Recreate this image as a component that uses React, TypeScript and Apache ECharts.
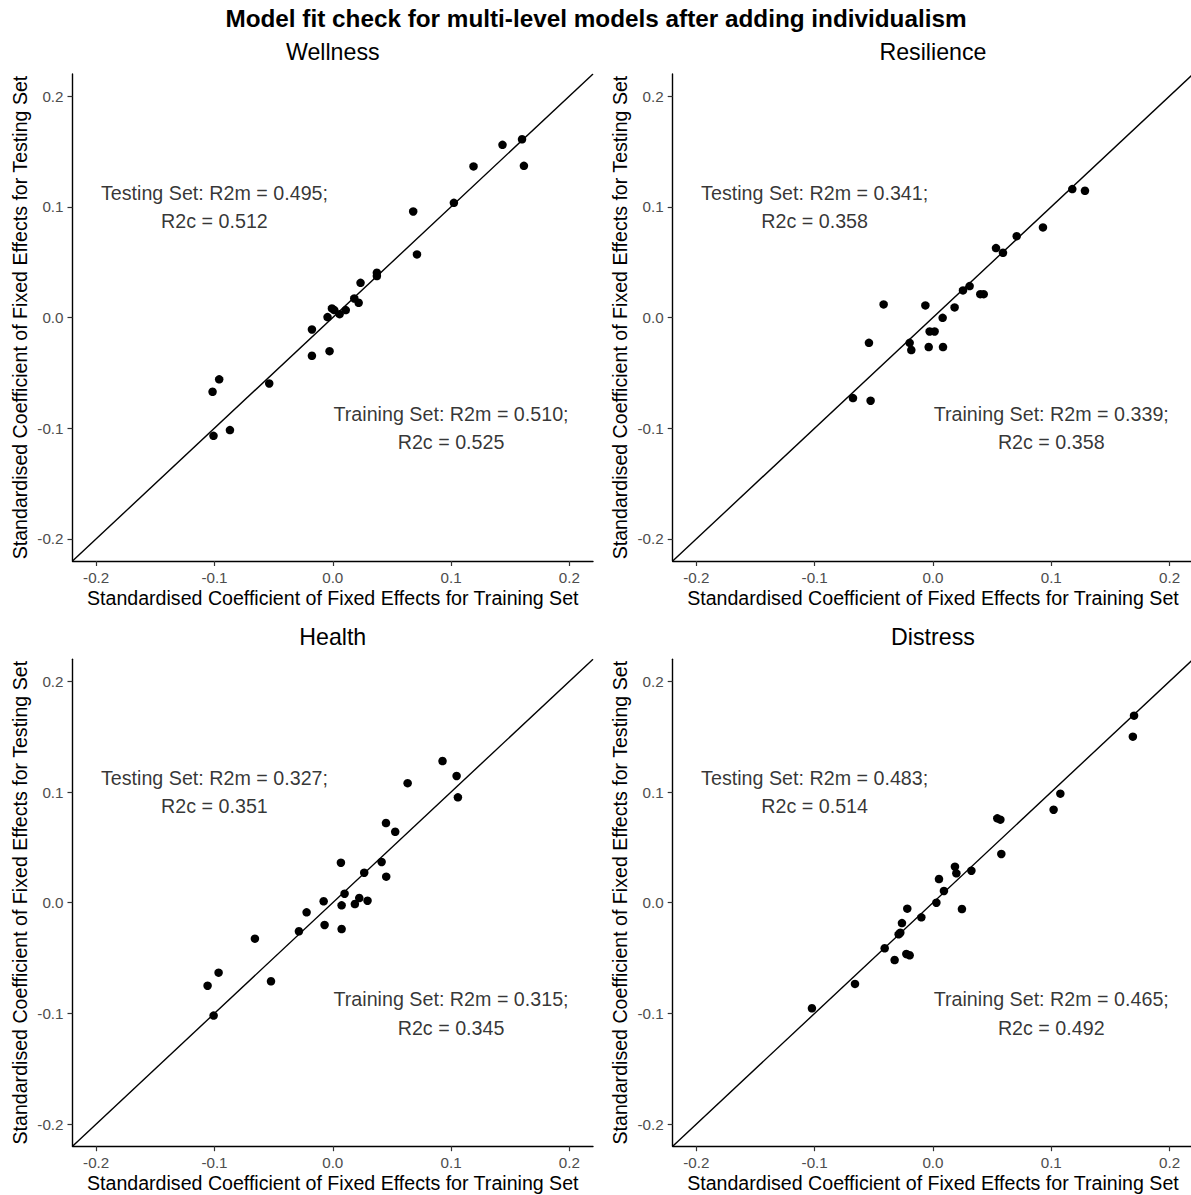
import React, { useEffect, useRef } from "react";
import * as echarts from "echarts";

// ---- Data ----
const tickValues = [-0.2, -0.1, 0, 0.1, 0.2];
const axisMin = -0.22;
const axisMax = 0.22;

const panelNames = ["Wellness", "Resilience", "Health", "Distress"];

const wellnessTrain = [0.160, 0.1435, 0.1616, 0.119, 0.1024, 0.068, 0.0712, 0.0373, 0.0373, 0.0235, 0.0182, 0.0219, -0.0007, 0.0013, 0.011, 0.0058, -0.0044, -0.0176, -0.0176, -0.0027, -0.0537, -0.1016, -0.096, -0.1008, -0.0869];
const wellnessTest = [0.161, 0.156, 0.137, 0.1365, 0.1036, 0.0958, 0.057, 0.0404, 0.0374, 0.0313, 0.0172, 0.0133, 0.0082, 0.0067, 0.0067, 0.003, 0.0004, -0.0108, -0.0346, -0.0304, -0.0596, -0.0671, -0.0559, -0.1069, -0.1017];

const resilienceTrain = [0.1178, 0.1285, 0.093, 0.0708, 0.0533, 0.0592, 0.0254, 0.031, 0.040, 0.0429, 0.0183, 0.0082, -0.0064, -0.0417, -0.0541, -0.0197, -0.0183, -0.0028, 0.0014, -0.0036, 0.0085, -0.0676, -0.0527];
const resilienceTest = [0.116, 0.1145, 0.0814, 0.0735, 0.0627, 0.0585, 0.0245, 0.0284, 0.0211, 0.0211, 0.0091, -0.0003, 0.0109, 0.0118, -0.0229, -0.0229, -0.0294, -0.0126, -0.0126, -0.0267, -0.0267, -0.0728, -0.0752];

const healthTrain = [0.0928, 0.1047, 0.1058, 0.0633, 0.045, 0.0528, 0.0069, 0.0413, 0.0266, 0.0452, 0.010, 0.0224, 0.0294, 0.0187, 0.0075, -0.0077, -0.0221, -0.0069, 0.0075, -0.0286, -0.0658, -0.0965, -0.1058, -0.0522, -0.1007];
const healthTest = [0.128, 0.1145, 0.0952, 0.108, 0.072, 0.0641, 0.0361, 0.0368, 0.0271, 0.0235, 0.0081, 0.0042, 0.0018, -0.0012, -0.0024, 0.0013, -0.0087, -0.0201, -0.0238, -0.0258, -0.0325, -0.0632, -0.075, -0.071, -0.102];

const distressTrain = [0.170, 0.169, 0.1077, 0.102, 0.0544, 0.057, 0.0578, 0.0325, 0.0186, 0.0198, 0.0051, 0.0093, 0.0029, 0.0245, -0.0217, -0.0098, -0.0262, -0.029, -0.0276, -0.0408, -0.0324, -0.0225, -0.0197, -0.0659, -0.1023];
const distressTest = [0.169, 0.150, 0.0985, 0.084, 0.0762, 0.075, 0.044, 0.0289, 0.0325, 0.0265, 0.0214, 0.0106, 0.0, -0.0057, -0.0054, -0.0132, -0.0184, -0.0286, -0.0271, -0.0412, -0.0518, -0.0463, -0.0475, -0.0734, -0.0954];

const testingLabels = [
  "Testing Set: R2m = 0.495;\nR2c = 0.512",
  "Testing Set: R2m = 0.341;\nR2c = 0.358",
  "Testing Set: R2m = 0.327;\nR2c = 0.351",
  "Testing Set: R2m = 0.483;\nR2c = 0.514",
];
const trainingLabels = [
  "Training Set: R2m = 0.510;\nR2c = 0.525",
  "Training Set: R2m = 0.339;\nR2c = 0.358",
  "Training Set: R2m = 0.315;\nR2c = 0.345",
  "Training Set: R2m = 0.465;\nR2c = 0.492",
];
const testingLabelPos = [-0.1, 0.1];
const trainingLabelPos = [0.1, -0.1];

const mainTitle = "Model fit check for multi-level models after adding individualism";
const xTitle = "Standardised Coefficient of Fixed Effects for Training Set";
const yTitle = "Standardised Coefficient of Fixed Effects for Testing Set";

const trainSets = [wellnessTrain, resilienceTrain, healthTrain, distressTrain];
const testSets = [wellnessTest, resilienceTest, healthTest, distressTest];

// ---- Layout ----
const FONT = "Liberation Sans";
const PANEL_W = 520.5;
const PANEL_H = 487;
const LEFTS = [72.5, 672.7];
const TOPS = [74, 659.2];

export default function App() {
  const ref = useRef<HTMLDivElement>(null);

  useEffect(() => {
    if (!ref.current) return;
    const chart = echarts.init(ref.current, null, { renderer: "svg" });

    const grids: any[] = [];
    const xAxes: any[] = [];
    const yAxes: any[] = [];
    const series: any[] = [];
    const graphics: any[] = [];

    graphics.push({
      type: "text",
      x: 596,
      y: 18,
      style: {
        text: mainTitle,
        align: "center",
        verticalAlign: "middle",
        fontFamily: FONT,
        fontSize: 24.3,
        fontWeight: "bold",
        fill: "#000",
      },
    });

    for (let i = 0; i < 4; i++) {
      const left = LEFTS[i % 2];
      const top = TOPS[Math.floor(i / 2)];
      grids.push({ left, top, width: PANEL_W, height: PANEL_H, outerBoundsMode: "none" });

      const axisCommon = {
        type: "value",
        min: axisMin,
        max: axisMax,
        splitLine: { show: false },
        axisLine: { show: true, onZero: false, lineStyle: { color: "#000", width: 1.4 } },
        axisTick: { show: true, length: 5, customValues: tickValues, lineStyle: { color: "#333", width: 1.2 } },
        axisLabel: {
          customValues: tickValues,
          formatter: (v: number) => v.toFixed(1),
          color: "#4d4d4d",
          fontSize: 15.2,
          fontFamily: FONT,
          margin: 9,
        },
      };
      xAxes.push({ ...axisCommon, gridIndex: i, position: "bottom" });
      yAxes.push({ ...axisCommon, gridIndex: i, position: "left" });

      series.push({
        type: "line",
        xAxisIndex: i,
        yAxisIndex: i,
        data: [[axisMin, axisMin], [axisMax, axisMax]],
        showSymbol: false,
        silent: true,
        lineStyle: { color: "#000", width: 1.4 },
        z: 2,
      });
      series.push({
        type: "scatter",
        xAxisIndex: i,
        yAxisIndex: i,
        data: trainSets[i].map((x, k) => [x, testSets[i][k]]),
        symbolSize: 8.5,
        itemStyle: { color: "#000", opacity: 1 },
        z: 3,
      });
      series.push({
        type: "scatter",
        xAxisIndex: i,
        yAxisIndex: i,
        data: [testingLabelPos, trainingLabelPos],
        symbolSize: 0,
        silent: true,
        label: {
          show: true,
          position: "inside",
          formatter: (p: any) => (p.dataIndex === 0 ? testingLabels[i] : trainingLabels[i]),
          align: "center",
          verticalAlign: "middle",
          fontFamily: FONT,
          fontSize: 19.7,
          lineHeight: 28.5,
          color: "#000",
        },
        z: 4,
      });

      graphics.push({
        type: "text",
        x: left + PANEL_W / 2,
        y: top - 22,
        style: {
          text: panelNames[i],
          align: "center",
          verticalAlign: "middle",
          fontFamily: FONT,
          fontSize: 23.2,
          fill: "#000",
        },
      });
      graphics.push({
        type: "text",
        x: left + PANEL_W / 2,
        y: top + PANEL_H + 37,
        style: {
          text: xTitle,
          align: "center",
          verticalAlign: "middle",
          fontFamily: FONT,
          fontSize: 19.6,
          fill: "#000",
        },
      });
      graphics.push({
        type: "text",
        x: left - 53,
        y: top + PANEL_H / 2,
        rotation: Math.PI / 2,
        style: {
          text: yTitle,
          align: "center",
          verticalAlign: "middle",
          fontFamily: FONT,
          fontSize: 19.6,
          fill: "#000",
        },
      });
    }

    chart.setOption({
      animation: false,
      backgroundColor: "#fff",
      textStyle: { fontFamily: FONT },
      grid: grids,
      xAxis: xAxes,
      yAxis: yAxes,
      series,
      graphic: graphics,
    });

    return () => chart.dispose();
  }, []);

  return (
    <div
      ref={ref}
      style={{ position: "absolute", left: 0, top: 0, width: 1191, height: 1195, background: "#fff" }}
    />
  );
}
